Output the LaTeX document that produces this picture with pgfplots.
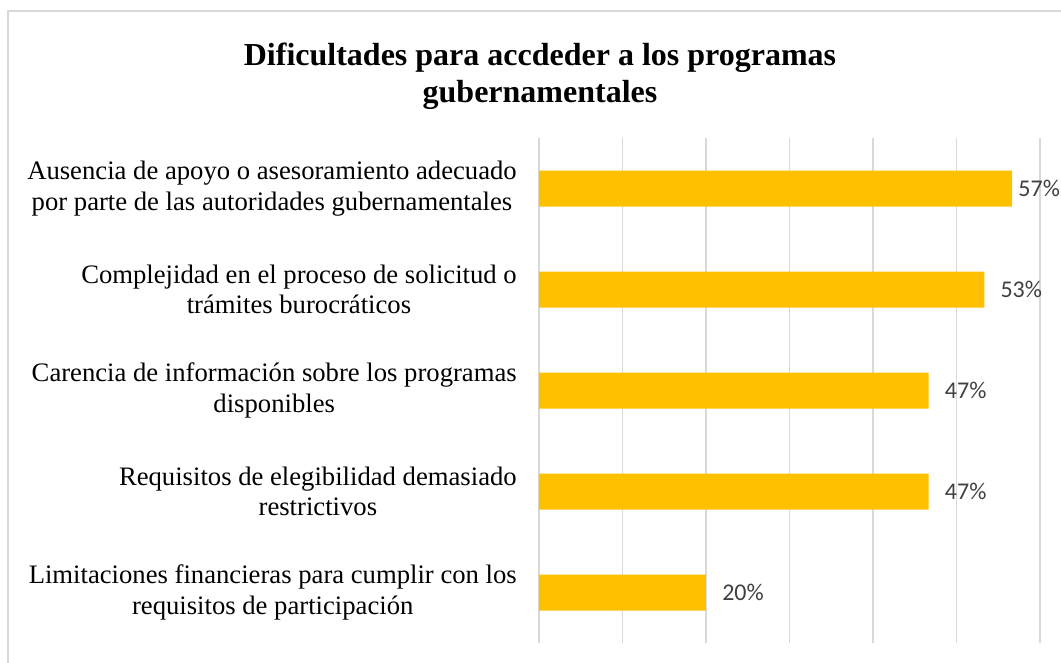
\documentclass[border=0pt]{standalone}
\usepackage{pgfplots}
\pgfplotsset{compat=1.18}
\usepackage{pgfplotstable}
\usepackage{fontspec}
\setmainfont{Liberation Serif}
\newfontfamily\lblfont{Carlito}
\definecolor{bargold}{HTML}{FFC000}
\definecolor{gridgray}{HTML}{D9D9D9}
\definecolor{lblgray}{HTML}{404040}
\pgfplotstableread{
y x shift
1 56.67 4.5
2 53.33 12
3 46.67 12
4 46.67 12
5 20.00 12
}\datatable
\begin{document}
\begin{tikzpicture}[x=0.75pt,y=0.75pt]
\useasboundingbox (0,0) rectangle (1061,663);
\begin{scope}
\clip (0,0) rectangle (1061,663);
\draw[gridgray, line width=1.1pt] (8,-10) -- (8,652) -- (1075,652);
\end{scope}
\node[align=center, font=\fontsize{24}{27.5}\selectfont\bfseries] at (540,586.5)
  {Dificultades para accdeder a los programas\\gubernamentales};
\begin{axis}[
  at={(404.25pt,15pt)}, anchor=south west,
  width=375.75pt, height=378.75pt, scale only axis,
  xbar, bar width=27pt, bar shift=0pt,
  xmin=0, xmax=60, ymin=0.5, ymax=5.5,
  y dir=reverse,
  axis line style={draw=none},
  xtick={0,10,...,60}, xticklabels={},
  xmajorgrids, grid style={gridgray, line width=1.2pt},
  ytick={1,2,3,4,5},
  yticklabels={
    {Ausencia de apoyo o asesoramiento adecuado\\por parte de las autoridades gubernamentales},
    {Complejidad en el proceso de solicitud o\\trámites burocráticos},
    {Carencia de información sobre los programas\\disponibles},
    {Requisitos de elegibilidad demasiado\\restrictivos},
    {Limitaciones financieras para cumplir con los\\requisitos de participación}},
  major tick length=0pt,
  yticklabel style={align=center, inner sep=0pt, xshift=-16.5pt,
    font=\fontsize{20}{23}\selectfont, text=black},
  clip=false,
  nodes near coords={\pgfmathprintnumber[fixed,precision=0,assume math mode=true]{\pgfplotspointmeta}\%},
  visualization depends on={\thisrow{shift} \as \myshift},
  every node near coord/.append style={anchor=west, inner sep=0pt,
    xshift=\myshift pt, font=\lblfont\fontsize{18}{21}\selectfont, text=lblgray},
]
\addplot[fill=bargold, draw=none] table[x=x, y=y] {\datatable};
\end{axis}
\end{tikzpicture}
\end{document}
